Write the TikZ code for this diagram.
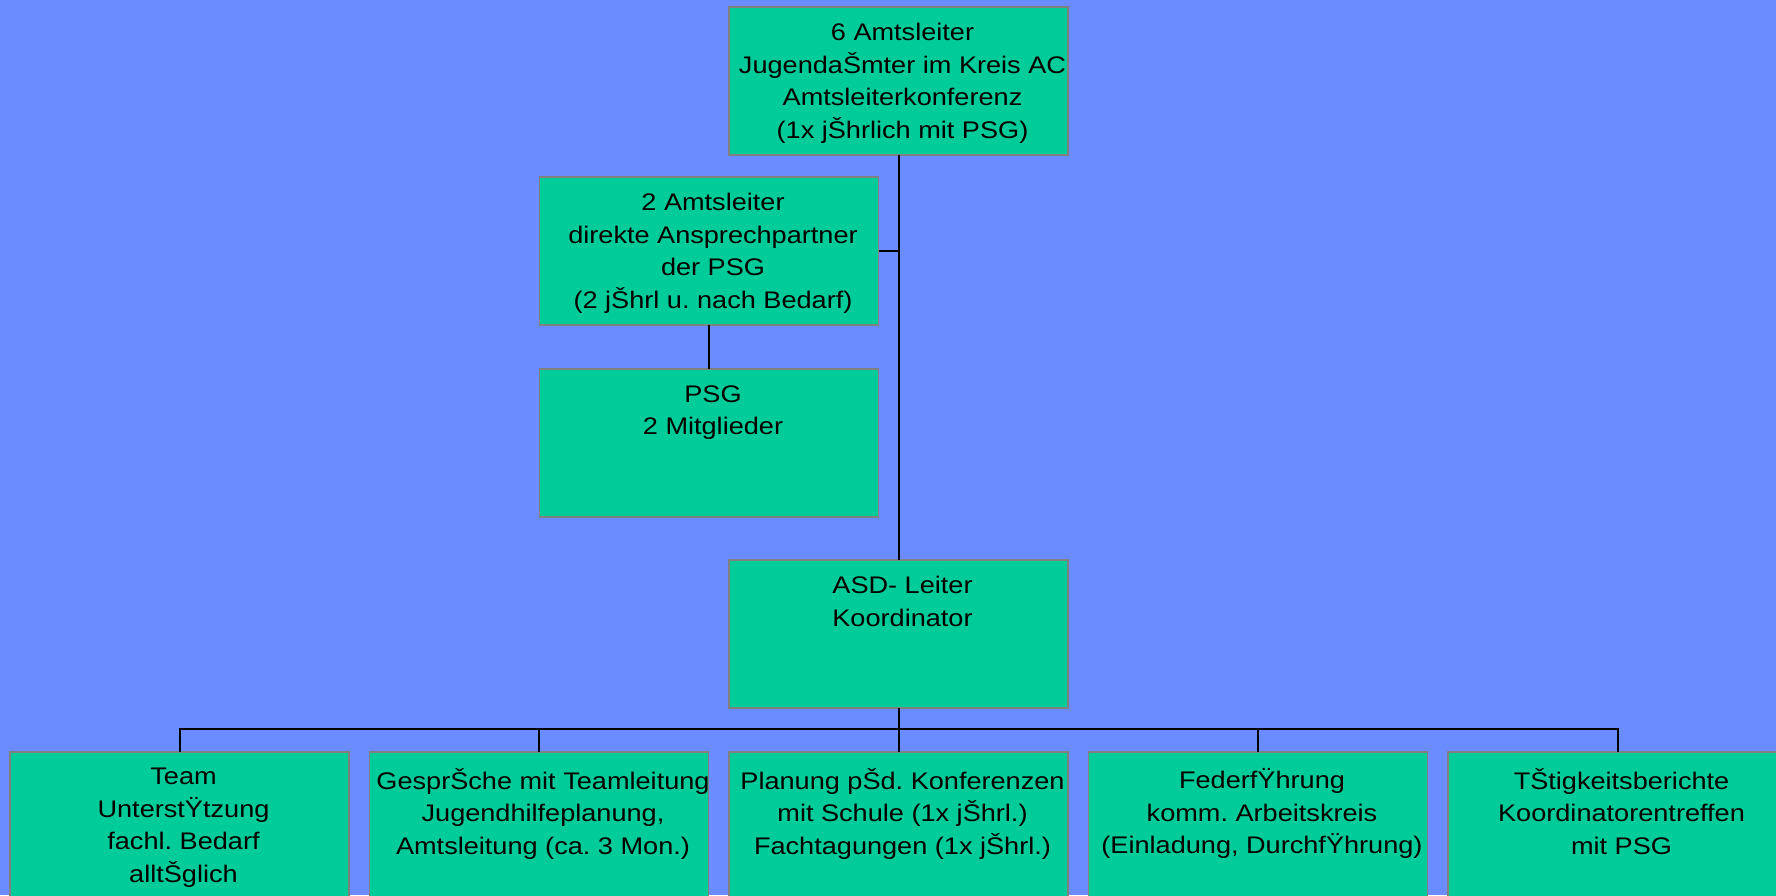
\documentclass[tikz,border=0pt]{standalone}
\usepackage{fontspec}
\setmainfont{Liberation Sans}[FakeStretch=1.13]
\usepackage{tikz}
\usetikzlibrary{positioning}
\definecolor{bgblue}{RGB}{107,140,255}
\definecolor{boxgreen}{RGB}{0,204,153}
\definecolor{boxgray}{RGB}{128,128,128}
\tikzstyle{block} = [rectangle, draw=boxgray, line width=0.75pt, fill=boxgreen, minimum width=169.5pt, minimum height=74pt, inner sep=0pt, outer sep=0pt]
\tikzstyle{blocktext} = [anchor=north, align=center, inner sep=0pt, xshift=2pt, font=\fontsize{12}{16.25}\selectfont\frenchspacing]
\tikzstyle{line} = [draw, line width=1pt, color=black]

\begin{document}
\begin{tikzpicture}[x=0.5pt, y=-0.5pt]
				\fill[bgblue] (0,0) rectangle (1776,895);
				\useasboundingbox (0,0) rectangle (1776,895);
				% Place nodes
				\node [block] (leitung) at (898.5,81) {};
				\node [block] (ansprech) at (709,251) {};
				\node [block, below=22pt of ansprech] (psg) {};
				\node [block] (asd) at (898.5,634) {};
				\node [block] (team) at (179.5,826) {};
				\node [block, right=10.25pt of team] (gespraech) {};
				\node [block, right=10.25pt of gespraech] (planung) {};
				\node [block, right=10.25pt of planung] (feder) {};
				\node [block, right=10.25pt of feder] (bericht) {};
				% Texts
				\node [blocktext] (leitung-t) at ([yshift=-8pt]leitung.north) {6 Amtsleiter\\ JugendaŠmter im Kreis AC\\ Amtsleiterkonferenz\\ (1x jŠhrlich mit PSG)};
				\node [blocktext] (ansprech-t) at ([yshift=-8pt]ansprech.north) {2 Amtsleiter\\ direkte Ansprechpartner\\ der PSG\\ (2 jŠhrl u. nach Bedarf)};
				\node [blocktext] (psg-t) at ([yshift=-8pt]psg.north) {PSG\\ 2 Mitglieder};
				\node [blocktext] (asd-t) at ([yshift=-8pt]asd.north) {ASD- Leiter\\ Koordinator};
				\node [blocktext] (team-t) at ([yshift=-8pt]team.north) {Team\\ UnterstŸtzung\\ fachl. Bedarf\\ alltŠglich};
				\node [blocktext] (gespraech-t) at ([yshift=-8pt]gespraech.north) {GesprŠche mit Teamleitung\\ Jugendhilfeplanung,\\ Amtsleitung (ca. 3 Mon.)};
				\node [blocktext] (planung-t) at ([yshift=-8pt]planung.north) {Planung pŠd. Konferenzen\\ mit Schule (1x jŠhrl.)\\ Fachtagungen (1x jŠhrl.)};
				\node [blocktext] (feder-t) at ([yshift=-8pt]feder.north) {FederfŸhrung\\ komm. Arbeitskreis\\ (Einladung, DurchfŸhrung)};
				\node [blocktext] (bericht-t) at ([yshift=-8pt]bericht.north) {TŠtigkeitsberichte\\ Koordinatorentreffen\\ mit PSG};
				% Draw edges
				\coordinate (bus) at ([yshift=-10.5pt]asd.south);
				\path [line] (leitung) -- (asd);
				\path [line] (ansprech.east) -- (ansprech.east -| leitung.south);
				\path [line] (ansprech) -- (psg);
				\path [line] (asd) -- (bus);
				\path [line] (bus) -| (team.north);
				\path [line] (bus) -| (gespraech.north);
				\path [line] (bus) -- (planung.north);
				\path [line] (bus) -| (feder.north);
				\path [line] (bus) -| (bericht.north);
			\end{tikzpicture}
\end{document}
